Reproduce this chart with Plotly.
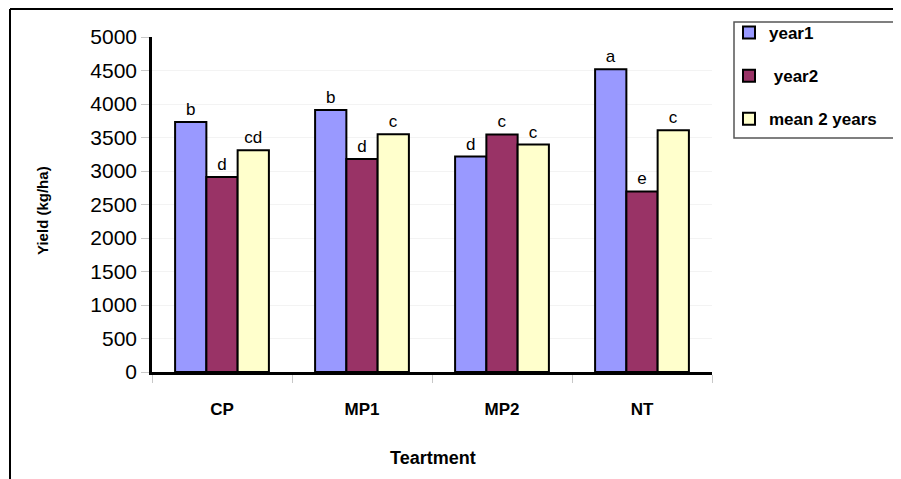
import plotly.graph_objects as go

categories = ["CP", "MP1", "MP2", "NT"]
year1 = [3730, 3910, 3215, 4520]
year2 = [2910, 3180, 3545, 2695]
mean2 = [3310, 3550, 3395, 3610]
letters_year1 = ["b", "b", "d", "a"]
letters_year2 = ["d", "d", "c", "e"]
letters_mean = ["cd", "c", "c", "c"]
series_names = ["year1", " year2", "mean 2 years"]
y_ticks = list(range(0, 5001, 500))

# page body has an 8px margin; work in reference pixel coords and shift
OFF = 8
W, H = 901 - OFF, 479 - OFF
L, R, T, B = 152 - OFF, 901 - 712, 37 - OFF, 479 - 372
PW, PH = W - L - R, H - T - B


def px(x):
    return (x - OFF - L) / PW


def py(y):
    return (H - B - (y - OFF)) / PH


FONT = "Arial, Liberation Sans, sans-serif"
colors = ["#9999FF", "#993366", "#FFFFCC"]

fig = go.Figure()
for i, (vals, letters) in enumerate(zip([year1, year2, mean2],
                                        [letters_year1, letters_year2, letters_mean])):
    fig.add_trace(go.Bar(
        x=categories, y=vals, name=series_names[i],
        marker=dict(color=colors[i], line=dict(color="black", width=2)),
        text=letters, textposition="outside",
        textfont=dict(family=FONT, size=17, color="black"),
        cliponaxis=False, legendgroup="g%d" % i,
    ))

fig.update_layout(
    width=W, height=H,
    margin=dict(l=L, r=R, t=T, b=B, pad=0, autoexpand=False),
    paper_bgcolor="white", plot_bgcolor="white",
    barmode="group", bargap=0.33, bargroupgap=0,
    font=dict(family=FONT, color="black"),
    uniformtext=dict(minsize=17, mode="show"),
    showlegend=True,
    legend=dict(
        x=px(729), y=py(15), xanchor="left", yanchor="top",
        font=dict(family=FONT, size=17, color="black", weight="bold"),
        tracegroupgap=18, traceorder="grouped",
        bgcolor="rgba(0,0,0,0)", borderwidth=0,
    ),
    xaxis=dict(
        showline=True, linecolor="black", linewidth=2.5,
        ticks="outside", tickson="boundaries", ticklen=8, tickcolor="#c8c8c8",
        tickfont=dict(family=FONT, size=17, weight="bold"),
        ticklabelstandoff=20,
        showgrid=False,
    ),
    yaxis=dict(
        range=[0, 5000], tickvals=y_ticks,
        showline=True, linecolor="black", linewidth=2.5,
        ticks="outside", ticklen=8, tickcolor="#c8c8c8",
        tickfont=dict(family=FONT, size=21),
        showgrid=True, gridcolor="#f3f3f3", gridwidth=1,
        zeroline=False,
    ),
    shapes=[
        dict(type="line", xref="paper", yref="paper",
             x0=px(10), x1=px(905), y0=py(9), y1=py(9),
             line=dict(color="black", width=2)),
        dict(type="line", xref="paper", yref="paper",
             x0=px(10), x1=px(10), y0=py(9), y1=py(482),
             line=dict(color="black", width=2)),
        dict(type="rect", xref="paper", yref="paper",
             x0=px(734), x1=px(910), y0=py(22), y1=py(138),
             line=dict(color="#555555", width=1.5)),
    ],
    annotations=[
        dict(text="Yield (kg/ha)", xref="paper", yref="paper",
             x=px(42), y=py(211), xanchor="center", yanchor="middle",
             textangle=-90, showarrow=False,
             font=dict(family=FONT, size=15, weight="bold")),
        dict(text="Teartment", xref="paper", yref="paper",
             x=px(433), y=py(458), xanchor="center", yanchor="middle",
             showarrow=False,
             font=dict(family=FONT, size=18, weight="bold")),
    ],
)

fig.write_html("out.html")
